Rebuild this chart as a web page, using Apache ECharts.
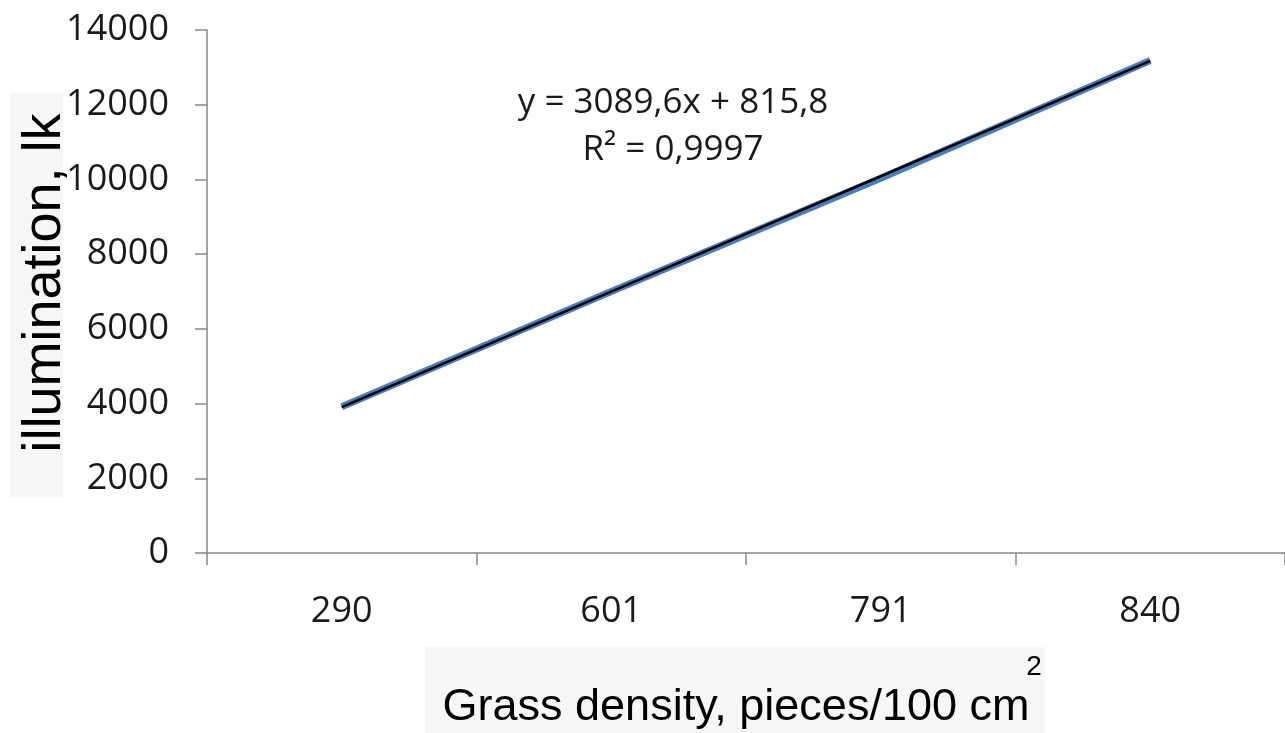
<!DOCTYPE html>
<html>
<head>
<meta charset="utf-8">
<script src="https://cdn.jsdelivr.net/npm/echarts@6/dist/echarts.min.js"></script>
<style>
  html, body { margin: 0; padding: 0; background: #fff; }
  #chart { width: 1285px; height: 733px; }
</style>
</head>
<body>
<div id="chart"></div>
<script>
// 数据
const categories = ['290', '601', '791', '840'];
const illumination = [3915, 7000, 10030, 13185];
const yTicks = [0, 2000, 4000, 6000, 8000, 10000, 12000, 14000];
// 趋势线系数 (图中方程)
const slope = 3089.6;
const intercept = 815.8;
const trend = categories.map((c, i) => slope * (i + 1) + intercept);

const chart = echarts.init(document.getElementById('chart'));

const axisColor = '#868686';
const textColor = '#1a1a1a';

const option = {
  backgroundColor: '#fff',
  animation: false,
  grid: { left: 207, right: 0, top: 30, bottom: 180 },
  xAxis: {
    type: 'category',
    data: categories,
    boundaryGap: true,
    axisLine: { lineStyle: { color: axisColor, width: 1.5 } },
    axisTick: { show: true, length: 12, interval: 0, lineStyle: { color: axisColor, width: 1.5 } },
    axisLabel: { margin: 41, fontSize: 36, fontFamily: 'Open Sans', color: textColor }
  },
  yAxis: {
    type: 'value',
    min: yTicks[0],
    max: yTicks[yTicks.length - 1],
    interval: 2000,
    splitLine: { show: false },
    axisLine: { show: true, lineStyle: { color: axisColor, width: 1.5 } },
    axisTick: { show: true, length: 12, lineStyle: { color: axisColor, width: 1.5 } },
    axisLabel: {
      margin: 38, fontSize: 36, fontFamily: 'Open Sans', color: textColor,
      formatter: v => String(v)
    }
  },
  series: [
    {
      name: 'illumination',
      type: 'line',
      data: illumination,
      symbol: 'none',
      lineStyle: { color: '#4a7ebb', width: 7 },
      z: 2
    },
    {
      name: 'trend',
      type: 'line',
      data: trend,
      symbol: 'none',
      lineStyle: { color: '#000', width: 2.5 },
      z: 3
    }
  ],
  graphic: [
    // y 轴标题
    { type: 'rect', shape: { x: 10, y: 93, width: 53, height: 404 }, style: { fill: '#f6f6f6' }, z: 0 },
    {
      type: 'text', x: 45, y: 283, rotation: Math.PI / 2,
      style: { text: 'illumination, lk', font: '54px "Liberation Sans"', fill: '#000', align: 'center', verticalAlign: 'middle' }
    },
    // x 轴标题
    { type: 'rect', shape: { x: 425, y: 647, width: 620, height: 86 }, style: { fill: '#f6f6f6' }, z: 0 },
    {
      type: 'text', x: 736, y: 708,
      style: { text: 'Grass density, pieces/100 cm', font: '45px "Liberation Sans"', fill: '#000', align: 'center', verticalAlign: 'middle' }
    },
    {
      type: 'text', x: 1034, y: 667,
      style: { text: '2', font: '28px "Liberation Sans"', fill: '#000', align: 'center', verticalAlign: 'middle' }
    },
    // 趋势线方程
    {
      type: 'text', x: 673, y: 103,
      style: { text: 'y = 3089,6x + 815,8', font: '35px "Open Sans"', fill: textColor, align: 'center', verticalAlign: 'middle' }
    },
    {
      type: 'text', x: 673, y: 150,
      style: { text: 'R² = 0,9997', font: '35px "Open Sans"', fill: textColor, align: 'center', verticalAlign: 'middle' }
    }
  ]
};

chart.setOption(option);
window.addEventListener('resize', () => chart.resize());
</script>
</body>
</html>
